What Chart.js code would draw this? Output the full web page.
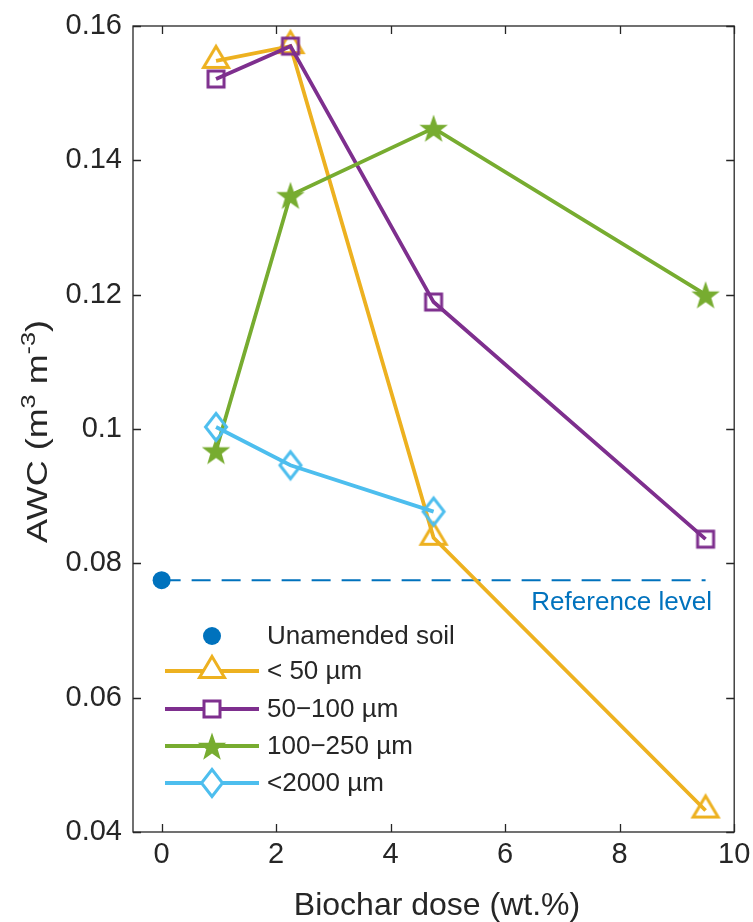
<!DOCTYPE html>
<html><head><meta charset="utf-8">
<script src="https://cdn.jsdelivr.net/npm/chart.js@4/dist/chart.umd.min.js"></script>
<style>html,body{margin:0;padding:0;background:#fff}canvas{display:block}</style>
</head><body>
<canvas id="c" width="753" height="922"></canvas>
<script>
const doses = [0.95, 2.25, 4.75, 9.5];
const unamendedDose = [0];
const unamendedAWC = [0.0775];
const awc50 = [0.1548, 0.1570, 0.0838, 0.0432];
const awc50_100 = [0.1521, 0.1570, 0.1189, 0.0836];
const awc100_250 = [0.0968, 0.1348, 0.1448, 0.1200];
const doses2000 = [0.95, 2.25, 4.75];
const awc2000 = [0.1003, 0.0946, 0.0877];
const refLevel = 0.0775;
const refX = [0, 9.5];
const xTicks = [0, 2, 4, 6, 8, 10];
const yTicks = [0.04, 0.06, 0.08, 0.1, 0.12, 0.14, 0.16];
const seriesNames = ['Unamended soil', '< 50 \u00b5m', '50\u2212100 \u00b5m', '100\u2212250 \u00b5m', '<2000 \u00b5m'];

const C_BLUE = '#0072BD', C_ORANGE = '#EDB120', C_PURPLE = '#7E2F8E', C_GREEN = '#77AC30', C_CYAN = '#4DBEEE';
const TXT = '#262626';
const FONT = '"Liberation Sans", Arial, Helvetica, sans-serif';

function marker(kind, color, fill) {
  const S = 40, c = S / 2;
  const cv = document.createElement('canvas');
  cv.width = S; cv.height = S;
  const g = cv.getContext('2d');
  g.lineJoin = 'miter';
  g.beginPath();
  if (kind === 'tri') {
    g.moveTo(c, c - 14.5); g.lineTo(c + 12.5, c + 6.5); g.lineTo(c - 12.5, c + 6.5); g.closePath();
  } else if (kind === 'sq') {
    g.rect(c - 8, c - 8, 16, 16);
  } else if (kind === 'dia') {
    g.moveTo(c, c - 13.5); g.lineTo(c + 10.5, c); g.lineTo(c, c + 13.5); g.lineTo(c - 10.5, c); g.closePath();
  } else if (kind === 'star') {
    const R = 15, r = R * 0.40, cy = c + 1.5;
    for (let i = 0; i < 10; i++) {
      const rad = i % 2 === 0 ? R : r;
      const a = -Math.PI / 2 + i * Math.PI / 5;
      const px = c + rad * Math.cos(a), py = cy + rad * Math.sin(a);
      if (i === 0) g.moveTo(px, py); else g.lineTo(px, py);
    }
    g.closePath();
    g.fillStyle = color; g.fill();
    return cv;
  }
  if (fill) { g.fillStyle = fill; g.fill(); }
  g.lineWidth = 3; g.strokeStyle = color; g.stroke();
  return cv;
}

const mk = {
  tri: marker('tri', C_ORANGE), sq: marker('sq', C_PURPLE), star: marker('star', C_GREEN), dia: marker('dia', C_CYAN),
  triL: marker('tri', C_ORANGE, '#fff'), sqL: marker('sq', C_PURPLE, '#fff'), starL: marker('star', C_GREEN), diaL: marker('dia', C_CYAN, '#fff')
};

const pts = (xs, ys) => xs.map((x, i) => ({x, y: ys[i]}));
const LW = 3.8;

const datasets = [
  {label: 'Reference level', data: pts(refX, [refLevel, refLevel]), borderColor: C_BLUE, borderWidth: 2, borderDash: [19, 11], pointRadius: 0, fill: false, order: 6},
  {label: seriesNames[1], data: pts(doses, awc50), borderColor: C_ORANGE, borderWidth: LW, pointStyle: mk.tri, legendStyle: mk.triL, pointRadius: 14, order: 5},
  {label: seriesNames[2], data: pts(doses, awc50_100), borderColor: C_PURPLE, borderWidth: LW, pointStyle: mk.sq, legendStyle: mk.sqL, pointRadius: 12, order: 4},
  {label: seriesNames[3], data: pts(doses, awc100_250), borderColor: C_GREEN, borderWidth: LW, pointStyle: mk.star, legendStyle: mk.starL, pointRadius: 15, order: 3},
  {label: seriesNames[4], data: pts(doses2000, awc2000), borderColor: C_CYAN, borderWidth: LW, pointStyle: mk.dia, legendStyle: mk.diaL, pointRadius: 14, order: 2},
  {label: seriesNames[0], data: pts(unamendedDose, unamendedAWC), showLine: false, pointStyle: 'circle', pointRadius: 9, pointBackgroundColor: C_BLUE, pointBorderColor: C_BLUE, pointBorderWidth: 0, order: 1}
];

const frame = {
  id: 'frame',
  afterDraw(chart) {
    const {ctx, chartArea: a, scales: {x, y}} = chart;
    ctx.save();
    ctx.strokeStyle = TXT; ctx.lineWidth = 1.3; ctx.setLineDash([]);
    ctx.strokeRect(a.left, a.top, a.right - a.left, a.bottom - a.top);
    const L = 8;
    ctx.beginPath();
    xTicks.forEach(v => {
      const px = Math.round(x.getPixelForValue(v)) + 0.5;
      ctx.moveTo(px, a.bottom); ctx.lineTo(px, a.bottom - L);
      ctx.moveTo(px, a.top); ctx.lineTo(px, a.top + L);
    });
    yTicks.forEach(v => {
      const py = Math.round(y.getPixelForValue(v)) + 0.5;
      ctx.moveTo(a.left, py); ctx.lineTo(a.left + L, py);
      ctx.moveTo(a.right, py); ctx.lineTo(a.right - L, py);
    });
    ctx.stroke();

    // x title
    ctx.fillStyle = TXT;
    ctx.font = '32px ' + FONT;
    ctx.textAlign = 'center'; ctx.textBaseline = 'alphabetic';
    ctx.fillText('Biochar dose (wt.%)', 437, 915);

    // y title with superscripts, compressed to reference width
    ctx.save();
    ctx.translate(47, 431.5);
    ctx.rotate(-Math.PI / 2);
    const big = '30px ' + FONT, small = '21px ' + FONT;
    const parts = [['AWC (m', big, 0], ['3', small, -12], [' m', big, 0], ['-3', small, -12], [')', big, 0]];
    let total = 0;
    parts.forEach(p => { ctx.font = p[1]; p.push(ctx.measureText(p[0]).width); total += p[3]; });
    const sx = 223 / total;
    ctx.scale(sx, 1);
    let cx = -total / 2;
    ctx.textAlign = 'left';
    parts.forEach(p => { ctx.font = p[1]; ctx.fillText(p[0], cx, p[2]); cx += p[3]; });
    ctx.restore();

    // reference label
    ctx.fillStyle = C_BLUE;
    ctx.font = '26px ' + FONT;
    ctx.textAlign = 'right'; ctx.textBaseline = 'middle';
    ctx.fillText(chart.data.datasets[0].label, 712, 603);

    // legend
    const order = [5, 1, 2, 3, 4];
    const rows = [636, 671, 709, 746, 783];
    order.forEach((di, i) => {
      const ds = chart.data.datasets[di];
      const yy = rows[i];
      if (ds.showLine !== false) {
        ctx.strokeStyle = ds.borderColor; ctx.lineWidth = ds.borderWidth;
        ctx.beginPath(); ctx.moveTo(165, yy); ctx.lineTo(259, yy); ctx.stroke();
        const img = ds.legendStyle;
        ctx.drawImage(img, 212 - img.width / 2, yy - img.height / 2);
      } else {
        ctx.fillStyle = ds.pointBackgroundColor;
        ctx.beginPath(); ctx.arc(212, yy, ds.pointRadius, 0, Math.PI * 2); ctx.fill();
      }
      ctx.fillStyle = TXT;
      ctx.font = '26px ' + FONT;
      ctx.textAlign = 'left'; ctx.textBaseline = 'middle';
      ctx.fillText(ds.label, 267, yy + 1);
    });
    ctx.restore();
  }
};

new Chart(document.getElementById('c'), {
  type: 'line',
  data: {datasets},
  options: {
    responsive: false, animation: false, devicePixelRatio: 1,
    layout: {padding: {left: 0, right: 17, top: 26, bottom: 0}},
    plugins: {legend: {display: false}, tooltip: {enabled: false}},
    elements: {line: {tension: 0}},
    scales: {
      x: {
        type: 'linear', min: -0.5, max: 10,
        afterBuildTicks: s => { s.ticks = xTicks.map(v => ({value: v})); },
        afterFit: s => { s.height = 90; s.paddingLeft = 0; s.paddingRight = 0; },
        grid: {display: false, drawTicks: false},
        border: {display: false},
        ticks: {color: TXT, font: {family: FONT, size: 29}, padding: 6, maxRotation: 0, autoSkip: false, callback: v => String(v)}
      },
      y: {
        type: 'linear', min: 0.04, max: 0.16,
        afterBuildTicks: s => { s.ticks = yTicks.map(v => ({value: v})); },
        afterFit: s => { s.width = 133; s.paddingTop = 0; s.paddingBottom = 0; },
        grid: {display: false, drawTicks: false},
        border: {display: false},
        ticks: {color: TXT, font: {family: FONT, size: 29}, padding: 11, autoSkip: false, callback: v => String(+v.toFixed(2))}
      }
    }
  },
  plugins: [frame]
});
</script>
</body></html>
